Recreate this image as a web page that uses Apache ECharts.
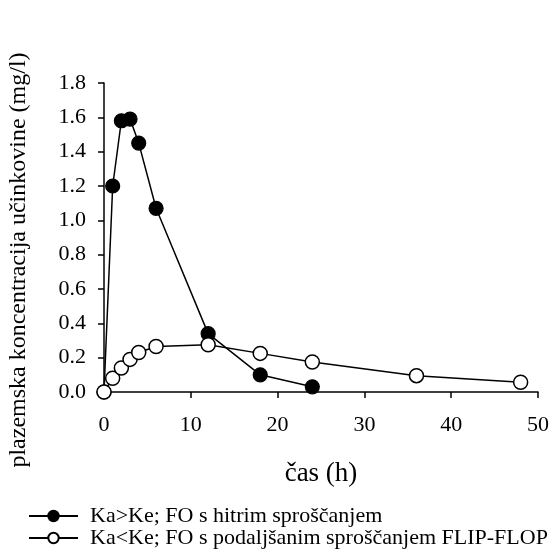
<!DOCTYPE html>
<html>
<head>
<meta charset="utf-8">
<script src="https://cdn.jsdelivr.net/npm/echarts@6/dist/echarts.min.js"></script>
<style>html,body{margin:0;padding:0;background:#fff;}#c{width:552px;height:555px;}</style>
</head>
<body>
<div id="c"></div>
<script>
var timesFast = [0, 1, 2, 3, 4, 6, 12, 18, 24];
var concFast = [0, 1.20, 1.58, 1.59, 1.45, 1.07, 0.34, 0.10, 0.03];
var timesSlow = [0, 1, 2, 3, 4, 6, 12, 18, 24, 36, 48];
var concSlow = [0, 0.08, 0.14, 0.19, 0.23, 0.265, 0.275, 0.225, 0.175, 0.095, 0.057];
var seriesNames = ['Ka>Ke; FO s hitrim sproščanjem', 'Ka<Ke; FO s podaljšanim sproščanjem FLIP-FLOP'];
var xTitle = 'čas (h)';
var yTitle = 'plazemska koncentracija učinkovine (mg/l)';

function pairs(xs, ys) { return xs.map(function (x, i) { return [x, ys[i]]; }); }

var font = '"Liberation Serif", "Times New Roman", serif';
var chart = echarts.init(document.getElementById('c'), null, {renderer: 'canvas'});
chart.setOption({
  animation: false,
  backgroundColor: '#fff',
  textStyle: {fontFamily: font, color: '#000'},
  grid: {left: 104, right: 14, top: 83, bottom: 163, containLabel: false},
  xAxis: {
    type: 'value', min: 0, max: 50, interval: 10,
    axisLine: {show: true, onZero: false, lineStyle: {color: '#000', width: 1.5}},
    axisTick: {show: true, inside: false, length: 6, lineStyle: {color: '#000', width: 1.5}},
    axisLabel: {fontFamily: font, fontSize: 22, color: '#000', margin: 22},
    splitLine: {show: false}
  },
  yAxis: {
    type: 'value', min: 0, max: 1.8, interval: 0.2,
    axisLine: {show: true, onZero: false, lineStyle: {color: '#000', width: 1.5}},
    axisTick: {show: true, inside: false, length: 6, lineStyle: {color: '#000', width: 1.5}},
    axisLabel: {fontFamily: font, fontSize: 22, color: '#000', margin: 18,
      formatter: function (v) { return v.toFixed(1); }},
    splitLine: {show: false}
  },
  legend: {
    orient: 'vertical', left: 23, top: 500, itemWidth: 49, itemHeight: 13, itemGap: 0,
    textStyle: {fontFamily: font, fontSize: 22, lineHeight: 20, color: '#000', padding: [0, 0, 0, 7]},
    data: seriesNames
  },
  graphic: [
    {type: 'text', x: 321, y: 474, style: {text: xTitle, font: '27px ' + font, fill: '#000',
      textAlign: 'center', textVerticalAlign: 'middle'}},
    {type: 'text', x: 19, y: 260, rotation: Math.PI / 2,
      style: {text: yTitle, font: '24px ' + font, fill: '#000', textAlign: 'center', textVerticalAlign: 'middle'}}
  ],
  series: [
    {
      name: seriesNames[0], type: 'line', data: pairs(timesFast, concFast),
      symbol: 'circle', symbolSize: 14, showAllSymbol: true,
      lineStyle: {color: '#000', width: 1.5},
      itemStyle: {color: '#000', borderColor: '#000', borderWidth: 1.2}
    },
    {
      name: seriesNames[1], type: 'line', data: pairs(timesSlow, concSlow),
      symbol: 'circle', symbolSize: 14, showAllSymbol: true,
      lineStyle: {color: '#000', width: 1.5},
      itemStyle: {color: '#fff', borderColor: '#000', borderWidth: 1.5}
    }
  ]
});
</script>
</body>
</html>
